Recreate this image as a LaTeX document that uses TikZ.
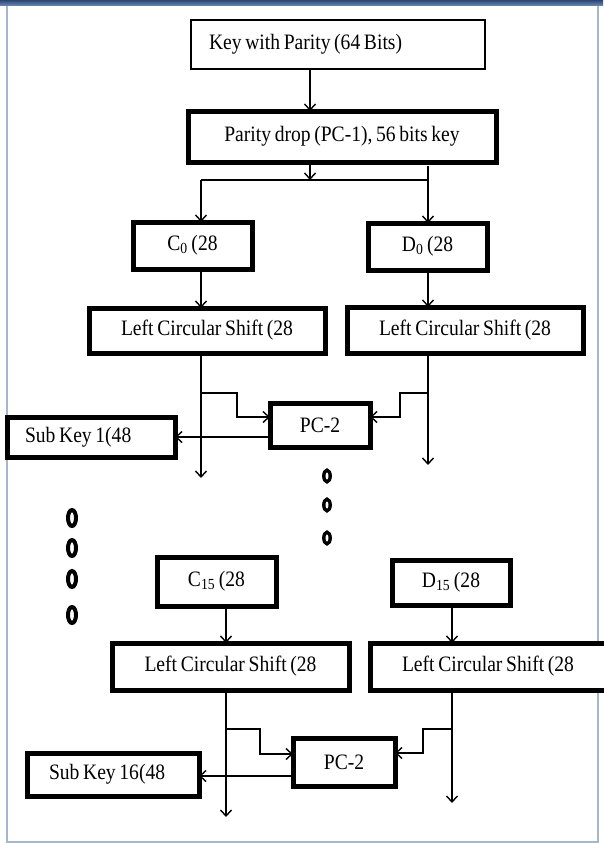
\documentclass[tikz,border=0pt]{standalone}
\usepackage{fontspec}
\setmainfont[FakeStretch=0.89, WordSpace=0.75]{Liberation Serif}
\usetikzlibrary{arrows.meta}
\definecolor{framecol}{HTML}{A3B8CC}
\definecolor{bartop}{HTML}{2A4573}
\definecolor{barbot}{HTML}{6F8DB5}
\begin{document}
\begin{tikzpicture}[x=1pt,y=-1pt,
  every node/.style={font=\fontsize{22}{25}\selectfont, inner sep=0pt, outer sep=0pt, fill=white},
  thinbox/.style={draw, line width=1.6pt},
  thickbox/.style={draw, line width=5pt},
  conn/.style={line width=1.4pt},
  arr/.style={conn, -{Straight Barb[length=6pt,width=11pt]}},
  bigdot/.style={line width=4pt},
  smalldot/.style={line width=3.4pt}]
\useasboundingbox (0,0) rectangle (603,843);
% frame
\fill[top color=bartop, bottom color=barbot] (0,0) rectangle (603,6);
\draw[framecol, line width=2pt] (7,6) -- (7,842) -- (598,842) -- (598,6);
% top part
\node[thinbox, inner xsep=18pt, minimum height=49pt] (key) at (338,44.5) {\makebox[258pt][l]{Key with Parity (64 Bits)}};
\node[thickbox, minimum width=308pt, minimum height=51pt] (pd) at (342,136.5) {Parity drop (PC-1), 56 bits key};
\node[thickbox, minimum width=119pt, minimum height=47pt] (c0) at (192.5,245.5) {C\textsubscript{0} (28};
\node[thickbox, minimum width=119pt, minimum height=47pt] (d0) at (427.5,246.5) {D\textsubscript{0} (28};
\node[thickbox, minimum width=236pt, minimum height=45pt] (lcsl) at (207,330.5) {Left Circular Shift (28};
\node[thickbox, minimum width=236pt, minimum height=46pt] (lcsr) at (465,330) {Left Circular Shift (28};
\node[thickbox, minimum width=100pt, minimum height=44pt] (pca) at (320,425) {PC-2};
\node[thickbox, inner xsep=18pt, minimum height=40pt] (ska) at (91,437) {\makebox[132pt][l]{Sub Key 1(48}};
% bottom part
\node[thickbox, minimum width=119pt, minimum height=49pt] (c15) at (216.5,581.5) {C\textsubscript{15} (28};
\node[thickbox, minimum width=118pt, minimum height=45pt] (d15) at (451,582.5) {D\textsubscript{15} (28};
\node[thickbox, minimum width=237pt, minimum height=47pt] (lcsbl) at (230.5,666.5) {Left Circular Shift (28};
\node[thickbox, minimum width=236pt, minimum height=47pt] (lcsbr) at (488,666.5) {Left Circular Shift (28};
\node[thickbox, minimum width=102pt, minimum height=48pt] (pcb) at (344,762) {PC-2};
\node[thickbox, inner xsep=22pt, minimum height=43pt] (skb) at (113,774.5) {\makebox[128pt][l]{Sub Key 16(48}};
% coordinates
\coordinate (ax) at (310,0);
\coordinate (hl) at (0,180);
\coordinate (xl) at (201,0);
\coordinate (xr) at (428,0);
\coordinate (stub) at (428,166);
\coordinate (endl) at (201,478);
\coordinate (endr) at (428,465);
\coordinate (bla) at (237,393);
\coordinate (blb) at (237,417);
\coordinate (bra) at (400,393);
\coordinate (brb) at (400,417);
\coordinate (xl2) at (226,0);
\coordinate (xr2) at (452,0);
\coordinate (endl2) at (226,817);
\coordinate (endr2) at (452,803);
\coordinate (bla2) at (260,729);
\coordinate (blb2) at (260,754);
\coordinate (bra2) at (423,729);
\coordinate (brb2) at (423,753);
% connectors top
\draw[arr] (key.south -| ax) -- (pd.north -| ax);
\draw[arr] (pd.south -| ax) -- (ax |- hl);
\draw[conn] (xl |- hl) -- (xr |- hl);
\draw[arr] (xl |- hl) -- (xl |- c0.north);
\draw[arr] (stub) -- (xr |- d0.north);
\draw[arr] (xl |- c0.south) -- (xl |- lcsl.north);
\draw[arr] (xr |- d0.south) -- (xr |- lcsr.north);
\draw[arr] (xl |- lcsl.south) -- (endl);
\draw[arr] (xr |- lcsr.south) -- (endr);
\draw[arr] (xl |- bla) -- (bla) -- (blb) -- (pca.west |- blb);
\draw[arr] (xr |- bra) -- (bra) -- (brb) -- (pca.east |- brb);
\draw[arr] (pca.west |- 0,437) -- (ska.east |- 0,437);
% connectors bottom
\draw[arr] (xl2 |- c15.south) -- (xl2 |- lcsbl.north);
\draw[arr] (xr2 |- d15.south) -- (xr2 |- lcsbr.north);
\draw[arr] (xl2 |- lcsbl.south) -- (endl2);
\draw[arr] (xr2 |- lcsbr.south) -- (endr2);
\draw[arr] (xl2 |- bla2) -- (bla2) -- (blb2) -- (pcb.west |- blb2);
\draw[arr] (xr2 |- bra2) -- (bra2) -- (brb2) -- (pcb.east |- brb2);
\draw[arr] (pcb.west |- 0,776) -- (skb.east |- 0,776);
% dots
\foreach \yy in {518,548,579,615} \draw[bigdot] (72,\yy) ellipse [x radius=4pt, y radius=8pt];
\foreach \yy in {476,505,538} \draw[smalldot] (327,\yy) ellipse [x radius=3.2pt, y radius=5.8pt];
\end{tikzpicture}
\end{document}
